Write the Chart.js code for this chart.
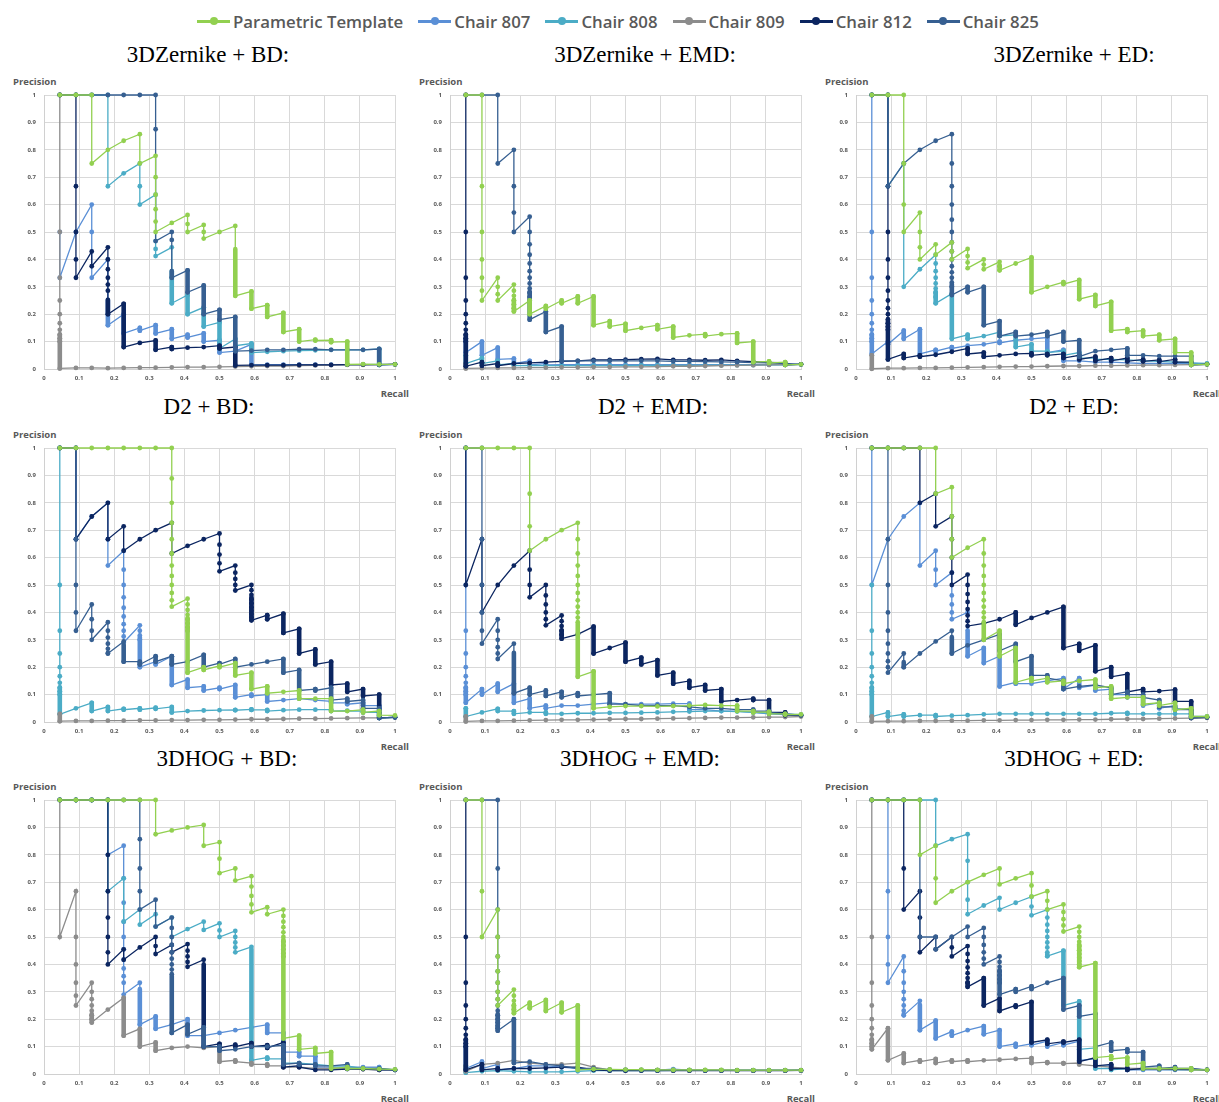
<!DOCTYPE html>
<html>
<head>
<meta charset="utf-8">
<script src="https://cdn.jsdelivr.net/npm/chart.js@4.4.1/dist/chart.umd.min.js"></script>
<style>
  html, body { margin: 0; padding: 0; background: #fff; }
  body { width: 1219px; height: 1102px; position: relative; overflow: hidden; font-family: "Open Sans", sans-serif; }
  #legend { position: absolute; left: 197px; top: 10px; display: flex; align-items: center; gap: 15px; height: 22px; }
  .item { display: flex; align-items: center; gap: 3px; font-weight: 600; font-size: 16.8px; color: #595959; white-space: nowrap; }
  .mk { position: relative; width: 33px; height: 3px; }
  .mk::after { content: ''; position: absolute; left: 12.5px; top: -2.5px; width: 8px; height: 8px; border-radius: 50%; background: inherit; }
  .title { position: absolute; transform: translate(-50%, -50%); font-family: "Liberation Serif", "Times New Roman", serif; font-size: 23px; color: #000; white-space: nowrap; }
  .ylab, .xlab { position: absolute; font-weight: 700; font-size: 9.5px; color: #595959; white-space: nowrap; transform: translateY(-50%); }
  .xlab { transform: translate(-100%, -50%); }
  .panel { position: absolute; }
</style>
</head>
<body>
<div id="legend"></div>
<script>
/* ---------- data ---------- */
const recall = [0.045, 0.091, 0.136, 0.182, 0.227, 0.273, 0.318, 0.364, 0.409, 0.455, 0.5,
                0.545, 0.591, 0.636, 0.682, 0.727, 0.773, 0.818, 0.864, 0.909, 0.955, 1];
const seriesNames  = ['Parametric Template', 'Chair 807', 'Chair 808', 'Chair 809', 'Chair 812', 'Chair 825'];
const seriesColors = ['#92D050', '#5A8FD6', '#4BACC6', '#8C8C8C', '#0B2560', '#365F91'];
const drawOrder    = [0, 5, 4, 3, 2, 1];   // template on top, then 825 ... 807 underneath
const panelTitles  = ['3DZernike + BD:', '3DZernike + EMD:', '3DZernike + ED:',
                      'D2 + BD:', 'D2 + EMD:', 'D2 + ED:',
                      '3DHOG + BD:', '3DHOG + EMD:', '3DHOG + ED:'];

// each entry = precision values at one recall level (top, visible dots..., bottom)
// 3DZernike + BD
const zBD_tmpl = [[1],[1],[1,0.75],[0.8],[0.833],[0.857,0.75],[0.778,0.7,0.636,0.583,0.538,0.5],[0.533],[0.5625,0.529,0.5],[0.526,0.5,0.476],[0.5],[0.522,0.267],[0.283,0.22],[0.233,0.19],[0.205,0.135],[0.145,0.1],[0.107,0.104],[0.105,0.098],[0.1,0.017],[0.018],[0.017],[0.017]];
const zBD_807  = [[0.5,0.333],[0.5],[0.6,0.5,0.333],[0.4,0.16],[0.2,0.13],[0.15,0.14],[0.16,0.13],[0.145,0.11],[0.125,0.115],[0.13,0.1],[0.105,0.06],[0.065],[0.09,0.015],[0.016],[0.016],[0.016],[0.016],[0.016],[0.016],[0.016],[0.017],[0.017]];
const zBD_808  = [[1],[1],[1],[1,0.667],[0.714],[0.75,0.667,0.6],[0.636,0.467,0.438,0.412],[0.444,0.24],[0.27,0.2],[0.225,0.155],[0.17,0.075],[0.11,0.085],[0.093,0.06],[0.063],[0.065],[0.067],[0.068],[0.07],[0.07],[0.07],[0.073,0.015],[0.017]];
const zBD_809  = [[1,0.5,0.333,0.25,0.2,0.167,0.143,0.125,0.111,0.1,0.002],[0.004],[0.004],[0.003],[0.004],[0.005],[0.005],[0.006],[0.007],[0.007],[0.008],[0.009],[0.01],[0.011],[0.011],[0.012],[0.013],[0.014],[0.015],[0.015],[0.016],[0.017]];
const zBD_812  = [[1],[1,0.667,0.5,0.4,0.333],[0.429,0.375],[0.444,0.4,0.364,0.333,0.308,0.286,0.2],[0.238,0.08],[0.095],[0.104,0.07],[0.08,0.073],[0.078],[0.08],[0.085,0.075],[0.08,0.013],[0.014],[0.014],[0.014],[0.015],[0.015],[0.015],[0.016],[0.016],[0.016],[0.017]];
const zBD_825  = [[1],[1],[1],[1],[1],[1],[1,0.875,0.467],[0.5,0.471,0.333],[0.36,0.28],[0.305,0.2],[0.216,0.18],[0.19,0.065],[0.067],[0.07],[0.07],[0.072],[0.072],[0.07],[0.07],[0.07],[0.073,0.015],[0.017]];
// 3DZernike + EMD
const zEMD_tmpl = [[1],[1,0.667,0.5,0.4,0.333,0.286,0.25],[0.333,0.3,0.273,0.25],[0.308,0.286,0.267,0.25,0.235,0.222,0.21],[0.25,0.2],[0.23,0.22],[0.25,0.24],[0.265,0.24],[0.265,0.16],[0.175,0.155],[0.165,0.14],[0.15],[0.16,0.145],[0.155,0.115],[0.123],[0.127,0.12],[0.127],[0.13,0.095],[0.1,0.025],[0.028,0.022],[0.025,0.015],[0.017]];
const zEMD_807  = [[0.11,0.06],[0.1,0.05],[0.078,0.035],[0.038,0.02],[0.03,0.015],[0.02,0.015],[0.016],[0.016],[0.016],[0.016],[0.016],[0.016],[0.016],[0.016],[0.016],[0.016],[0.016],[0.016],[0.016],[0.016],[0.016],[0.017]];
const zEMD_808  = [[0.05,0.02],[0.04,0.02],[0.03,0.015],[0.02,0.012],[0.013],[0.012],[0.012],[0.012],[0.012],[0.012],[0.012],[0.013],[0.013],[0.013],[0.013],[0.014],[0.014],[0.014],[0.014],[0.015],[0.015],[0.017]];
const zEMD_809  = [[0.02,0.002],[0.003],[0.004],[0.004],[0.005],[0.005],[0.006],[0.006],[0.007],[0.007],[0.008],[0.008],[0.009],[0.01],[0.01],[0.011],[0.012],[0.013],[0.014],[0.015],[0.016],[0.017]];
const zEMD_812  = [[1,0.5,0.333,0.25,0.2,0.167,0.143,0.125,0.111,0.1,0.01],[0.025,0.012],[0.02,0.012],[0.02],[0.022],[0.025],[0.028],[0.03],[0.033],[0.033],[0.034],[0.036],[0.037],[0.033],[0.033],[0.032],[0.033],[0.03],[0.027],[0.024],[0.022,0.015],[0.017]];
const zEMD_825  = [[1],[1],[1,0.75],[0.8,0.667,0.571,0.5],[0.556,0.5,0.455,0.417,0.385,0.357,0.333,0.312,0.294,0.278,0.263,0.25,0.18],[0.21,0.135],[0.155,0.03],[0.03],[0.03],[0.03],[0.03],[0.03],[0.03],[0.028],[0.028],[0.027],[0.026],[0.025],[0.023],[0.022],[0.02],[0.017]];
// 3DZernike + ED
const zED_tmpl = [[1],[1],[1,0.75,0.6,0.5],[0.571,0.5,0.444,0.4],[0.455,0.417],[0.462,0.429,0.4],[0.438,0.412,0.389,0.368],[0.4,0.381,0.364],[0.391,0.375,0.36],[0.385],[0.407,0.28],[0.3],[0.317,0.31],[0.325,0.255],[0.27,0.23],[0.245,0.14],[0.145,0.135],[0.14,0.12],[0.125,0.105],[0.11,0.06],[0.06,0.015],[0.017]];
const zED_807  = [[1,0.5,0.333,0.25,0.2,0.167,0.143,0.125,0.111,0.1,0.055],[0.1,0.09],[0.14,0.11],[0.145,0.055],[0.07,0.065],[0.08,0.075],[0.085],[0.09],[0.1,0.095],[0.105],[0.11],[0.115,0.06],[0.07,0.03],[0.03],[0.025],[0.025],[0.022],[0.02],[0.02],[0.02],[0.02],[0.019]];
const zED_808  = [[1],[1,0.667],[0.75,0.3],[0.364],[0.417,0.385,0.357,0.333,0.312,0.294,0.278,0.263,0.24],[0.275,0.11],[0.125,0.11],[0.12],[0.135,0.12],[0.125,0.08],[0.09,0.065],[0.065,0.06],[0.065,0.05],[0.06,0.04],[0.04,0.035],[0.035],[0.033],[0.03],[0.028],[0.025],[0.022],[0.02]];
const zED_809  = [[0.05,0.001],[0.003],[0.003],[0.004],[0.004],[0.005],[0.006],[0.007],[0.008],[0.009],[0.009],[0.01],[0.011],[0.011],[0.012],[0.012],[0.013],[0.014],[0.014],[0.015],[0.016],[0.017]];
const zED_812  = [[1],[1,0.667,0.5,0.4,0.333,0.286,0.25,0.222,0.2,0.182,0.167,0.154,0.143,0.035],[0.055,0.04],[0.05,0.045],[0.052],[0.063],[0.075,0.055],[0.06,0.045],[0.05],[0.055],[0.057,0.05],[0.055,0.05],[0.055,0.04],[0.05,0.035],[0.045,0.03],[0.04,0.03],[0.04,0.028],[0.035,0.028],[0.033,0.027],[0.035,0.025],[0.025,0.015],[0.017]];
const zED_825  = [[1],[1,0.667],[0.75],[0.8],[0.833],[0.857,0.75,0.667,0.6,0.545,0.5,0.462,0.429,0.4,0.375,0.353,0.333,0.316,0.3,0.27],[0.3,0.28],[0.3,0.16],[0.175,0.12],[0.135,0.12],[0.125],[0.135,0.12],[0.135,0.1],[0.105,0.045],[0.065],[0.07],[0.075,0.05],[0.05],[0.047],[0.047],[0.047,0.015],[0.017]];
// D2 + BD
const dBD_tmpl = [[1],[1],[1],[1],[1],[1],[1],[1,0.889,0.8,0.727,0.667,0.615,0.571,0.533,0.5,0.471,0.444,0.421],[0.45,0.429,0.409,0.391,0.375,0.36,0.346,0.333,0.18],[0.2,0.19],[0.205,0.2],[0.215,0.17],[0.18,0.12],[0.13,0.105],[0.11],[0.115,0.085],[0.085],[0.085,0.04],[0.04],[0.045,0.035],[0.04,0.025],[0.024]];
const dBD_807  = [[1],[1,0.667],[0.75],[0.8,0.667,0.571],[0.625,0.556,0.5,0.455,0.417,0.385,0.357,0.333,0.312,0.29],[0.353,0.333,0.316,0.3,0.2],[0.22,0.21],[0.24,0.135],[0.155,0.125],[0.13,0.115],[0.125,0.12],[0.135,0.09],[0.1,0.095],[0.1,0.075],[0.08],[0.085],[0.08],[0.075,0.07],[0.07,0.065],[0.07,0.06],[0.06,0.015],[0.017]];
const dBD_808  = [[1,0.5,0.333,0.25,0.2,0.167,0.143,0.125,0.111,0.1,0.028],[0.05],[0.07,0.04],[0.055,0.04],[0.048,0.045],[0.05,0.045],[0.052,0.048],[0.055,0.035],[0.04],[0.042],[0.043],[0.044,0.043],[0.046,0.044],[0.044,0.04],[0.043],[0.045],[0.045],[0.045,0.04],[0.041],[0.04,0.035],[0.035,0.015],[0.017]];
const dBD_809  = [[0.03,0.003],[0.004],[0.004],[0.005],[0.005],[0.006],[0.006],[0.007],[0.007],[0.008],[0.008],[0.009],[0.01],[0.01],[0.011],[0.012],[0.012],[0.013],[0.014],[0.015],[0.015],[0.017]];
const dBD_812  = [[1],[1,0.667],[0.75],[0.8,0.667],[0.714,0.625],[0.667],[0.7],[0.727,0.615],[0.643],[0.667],[0.688,0.647,0.611,0.579,0.55],[0.571,0.545,0.522,0.5,0.48],[0.5,0.481,0.464,0.448,0.433,0.419,0.406,0.394,0.382,0.371],[0.39,0.375],[0.395,0.325],[0.34,0.25],[0.265,0.21],[0.22,0.135],[0.14,0.11],[0.12,0.095],[0.1,0.015],[0.017]];
const dBD_825  = [[1],[1,0.667,0.5,0.4,0.333],[0.429,0.375,0.333,0.3],[0.364,0.333,0.308,0.286,0.267,0.25],[0.294,0.22],[0.22,0.21],[0.24,0.22],[0.24,0.21],[0.22],[0.245,0.2],[0.215,0.21],[0.23,0.2],[0.21],[0.22],[0.23,0.18],[0.19,0.115],[0.12,0.115],[0.125,0.08],[0.085,0.075],[0.08,0.05],[0.05,0.015],[0.017]];
// D2 + EMD
const dEMD_tmpl = [[1],[1],[1],[1],[1,0.833,0.714,0.625],[0.667],[0.7],[0.727,0.667,0.615,0.571,0.533,0.5,0.471,0.444,0.421,0.4,0.381,0.364,0.165],[0.185,0.05],[0.055],[0.058],[0.058],[0.057],[0.058],[0.06],[0.062],[0.06],[0.06,0.04],[0.04,0.035],[0.037,0.03],[0.03,0.027],[0.028]];
const dEMD_807  = [[1,0.5,0.333,0.25,0.2,0.167,0.143,0.125,0.111,0.1,0.07],[0.12,0.1],[0.14,0.11],[0.14,0.07],[0.085,0.05],[0.06,0.05],[0.06],[0.06],[0.065],[0.07],[0.065],[0.065],[0.065],[0.067],[0.067,0.045],[0.045],[0.04],[0.04],[0.035],[0.03],[0.027],[0.025]];
const dEMD_808  = [[0.05,0.02],[0.035],[0.048,0.04],[0.04,0.03],[0.035],[0.035,0.03],[0.03],[0.032],[0.032],[0.033],[0.033],[0.034],[0.035],[0.037],[0.038],[0.04],[0.04],[0.038],[0.035],[0.032],[0.03],[0.027]];
const dEMD_809  = [[0.02,0.002],[0.004],[0.004],[0.005],[0.006],[0.007],[0.008],[0.008],[0.009],[0.01],[0.011],[0.011],[0.012],[0.013],[0.014],[0.015],[0.016],[0.016],[0.017],[0.018],[0.018],[0.02]];
const dEMD_812  = [[1,0.5],[0.667,0.5,0.4],[0.5],[0.571],[0.625,0.556,0.5,0.455],[0.5,0.462,0.429,0.4,0.375,0.353],[0.389,0.368,0.35,0.333,0.318,0.304],[0.32],[0.348,0.25],[0.27],[0.29,0.22],[0.235,0.21],[0.226,0.17],[0.18,0.14],[0.15,0.125],[0.135,0.115],[0.12,0.075],[0.08],[0.085,0.08],[0.08,0.035],[0.035,0.025],[0.025]];
const dEMD_825  = [[1],[1,0.667,0.5,0.4,0.333,0.286],[0.375,0.333,0.3,0.273,0.25,0.23],[0.286,0.105],[0.125,0.1],[0.115,0.095],[0.11,0.09],[0.105,0.095],[0.1],[0.105,0.065],[0.065],[0.06],[0.06],[0.06],[0.055],[0.05],[0.05],[0.045],[0.045,0.04],[0.04,0.035],[0.03],[0.025]];
// D2 + ED
const dED_tmpl = [[1],[1],[1],[1],[1,0.833],[0.857,0.75,0.667,0.6],[0.636],[0.667,0.615,0.571,0.533,0.5,0.471,0.444,0.421,0.4,0.381,0.364,0.3],[0.333,0.24],[0.27,0.145],[0.16,0.15],[0.16,0.145],[0.15,0.14],[0.15],[0.155,0.125],[0.13,0.085],[0.09],[0.09,0.065],[0.07,0.06],[0.07,0.045],[0.05,0.02],[0.02]];
const dED_807  = [[1,0.5],[0.667],[0.75],[0.8,0.571],[0.625,0.556,0.5],[0.545,0.462,0.429,0.4,0.375],[0.4,0.24],[0.27,0.215],[0.24,0.13],[0.145,0.14],[0.14],[0.15],[0.16,0.12],[0.16,0.125],[0.135,0.115],[0.12,0.1],[0.1,0.09],[0.09,0.06],[0.07,0.05],[0.06,0.05],[0.045,0.02],[0.019]];
const dED_808  = [[0.5,0.333,0.25,0.2,0.167,0.143,0.125,0.111,0.1,0.02],[0.035,0.02],[0.028,0.02],[0.025],[0.025,0.02],[0.023],[0.025],[0.028],[0.03],[0.03],[0.03],[0.03],[0.03],[0.03],[0.03],[0.032],[0.033,0.03],[0.03],[0.03],[0.03],[0.03,0.02],[0.02]];
const dED_809  = [[0.02,0.002],[0.003],[0.003],[0.004],[0.004],[0.005],[0.005],[0.006],[0.006],[0.007],[0.007],[0.008],[0.008],[0.009],[0.009],[0.01],[0.011],[0.011],[0.012],[0.013],[0.014],[0.015]];
const dED_812  = [[1],[1],[1],[1,0.8],[0.833,0.714],[0.75,0.667,0.6,0.545,0.5],[0.538,0.5,0.467,0.438,0.412,0.389,0.368,0.35],[0.36],[0.375],[0.4,0.355],[0.38],[0.4],[0.42,0.27],[0.285,0.26],[0.28,0.185],[0.2,0.165],[0.175,0.11],[0.12,0.11],[0.113],[0.118,0.075],[0.075,0.015],[0.017]];
const dED_825  = [[1],[1,0.667,0.5,0.4,0.333,0.286,0.25,0.222,0.2,0.18],[0.25,0.2],[0.25],[0.294],[0.333,0.25],[0.28],[0.3],[0.32,0.26],[0.285,0.22],[0.24,0.17],[0.17,0.16],[0.15,0.12],[0.13],[0.135],[0.125,0.1],[0.11,0.1],[0.1,0.09],[0.08,0.055],[0.055,0.045],[0.045,0.015],[0.017]];
// 3DHOG + BD
const hBD_tmpl = [[1],[1],[1],[1],[1],[1],[1,0.875],[0.889],[0.9],[0.909,0.833],[0.846,0.786,0.733],[0.75,0.706],[0.722,0.684,0.65,0.619,0.59],[0.609,0.583],[0.6,0.577,0.556,0.536,0.517,0.5,0.484,0.469,0.455,0.441,0.429,0.13],[0.14,0.09],[0.095,0.075],[0.08,0.02],[0.025,0.02],[0.02],[0.018],[0.017]];
const hBD_807  = [[1],[1],[1],[1,0.8],[0.833,0.714,0.625,0.556,0.5,0.455,0.417,0.385,0.357,0.333,0.29],[0.333,0.18],[0.21,0.165],[0.18],[0.2,0.14],[0.14],[0.15],[0.16],[0.17],[0.18,0.15],[0.15,0.08],[0.08,0.065],[0.065,0.025],[0.025],[0.025],[0.025],[0.025,0.015],[0.015]];
const hBD_808  = [[1],[1],[1],[1,0.667],[0.714,0.556],[0.6,0.545],[0.583,0.538],[0.571,0.5],[0.529],[0.556,0.526],[0.55,0.524,0.5],[0.522,0.5,0.48,0.462,0.444],[0.464,0.05],[0.06,0.055],[0.055,0.04],[0.04],[0.035],[0.03],[0.03],[0.02],[0.02],[0.015]];
const hBD_809  = [[1,0.5],[0.667,0.5,0.4,0.333,0.286,0.25],[0.333,0.3,0.273,0.25,0.231,0.214,0.2,0.188],[0.235],[0.278,0.14],[0.165,0.1],[0.115,0.085],[0.095],[0.1],[0.095],[0.1,0.045],[0.05,0.045],[0.04,0.035],[0.035,0.03],[0.03,0.025],[0.025],[0.02],[0.02],[0.02],[0.017],[0.015],[0.015]];
const hBD_812  = [[1],[1],[1],[1,0.8,0.667,0.571,0.5,0.444,0.4],[0.455,0.417],[0.462],[0.5,0.467,0.438],[0.471,0.444],[0.474,0.45,0.429,0.409,0.391],[0.417,0.1],[0.11,0.095],[0.107,0.1],[0.113,0.1],[0.105,0.095],[0.115,0.025],[0.03,0.025],[0.015],[0.015],[0.018],[0.018],[0.015],[0.015]];
const hBD_825  = [[1],[1],[1],[1],[1],[1,0.857,0.75,0.667,0.6],[0.636,0.538],[0.571,0.533,0.5,0.471,0.444,0.421,0.4,0.381,0.364,0.15],[0.18,0.145],[0.17,0.1],[0.1,0.085],[0.09],[0.1],[0.1],[0.105,0.035],[0.04,0.035],[0.035,0.03],[0.03],[0.035,0.02],[0.02],[0.02],[0.015]];
// 3DHOG + EMD
const hEMD_tmpl = [[1],[1,0.667,0.5],[0.6,0.5,0.429,0.375,0.333,0.3,0.273,0.25],[0.308,0.286,0.267,0.25,0.235,0.222],[0.26,0.24],[0.27,0.23],[0.26,0.225],[0.25,0.015],[0.018],[0.017],[0.016],[0.016],[0.015],[0.015],[0.015],[0.015],[0.015],[0.014],[0.014],[0.014],[0.014],[0.014]];
const hEMD_807  = [[0.1,0.02],[0.045,0.02],[0.035,0.015],[0.02],[0.03],[0.03],[0.025],[0.02],[0.018],[0.016],[0.015],[0.015],[0.014],[0.018],[0.014],[0.014],[0.014],[0.014],[0.014],[0.014],[0.014],[0.014]];
const hEMD_808  = [[0.03,0.005],[0.01],[0.012],[0.01],[0.008],[0.008],[0.008],[0.01],[0.012],[0.012],[0.012],[0.012],[0.012],[0.013],[0.013],[0.013],[0.013],[0.013],[0.013],[0.013],[0.013],[0.013]];
const hEMD_809  = [[0.03,0.01],[0.035],[0.04],[0.05],[0.04],[0.035],[0.035],[0.04],[0.025],[0.015],[0.014],[0.014],[0.014],[0.013],[0.013],[0.013],[0.013],[0.013],[0.013],[0.013],[0.013],[0.013]];
const hEMD_812  = [[1,0.5,0.333,0.25,0.2,0.167,0.143,0.125,0.111,0.1,0.015],[0.035,0.015],[0.02,0.015],[0.02],[0.02],[0.022],[0.025],[0.025],[0.015],[0.012],[0.012],[0.012],[0.012],[0.012],[0.012],[0.012],[0.012],[0.012],[0.012],[0.012],[0.012],[0.013]];
const hEMD_825  = [[1],[1],[1,0.75,0.6,0.5,0.429,0.375,0.333,0.3,0.273,0.25,0.231,0.214,0.2,0.188,0.176,0.167,0.158],[0.2,0.04],[0.045],[0.035],[0.03],[0.02],[0.02],[0.015],[0.015],[0.014],[0.014],[0.014],[0.014],[0.013],[0.013],[0.013],[0.013],[0.013],[0.013],[0.013]];
// 3DHOG + ED
const hED_tmpl = [[1],[1],[1],[1,0.8],[0.833,0.714,0.625],[0.667],[0.7],[0.727],[0.75,0.692],[0.714],[0.733,0.688,0.647],[0.667,0.632,0.6],[0.619,0.591,0.565,0.542,0.52],[0.538,0.519,0.5,0.483,0.467,0.452,0.438,0.424,0.412,0.4,0.39],[0.405,0.06],[0.065,0.055],[0.06,0.035],[0.04,0.02],[0.02],[0.02],[0.02,0.015],[0.015]];
const hED_807  = [[1],[1,0.667,0.5,0.4,0.333],[0.429,0.375,0.333,0.3,0.273,0.25,0.231,0.214],[0.267,0.16],[0.195,0.13],[0.155,0.14],[0.16],[0.175,0.145],[0.16,0.1],[0.11,0.1],[0.11,0.105],[0.12,0.1],[0.115,0.105],[0.12,0.05],[0.055,0.03],[0.03,0.02],[0.02,0.015],[0.015],[0.015],[0.015],[0.015],[0.015]];
const hED_808  = [[1],[1],[1],[1],[1,0.833],[0.857],[0.875,0.778,0.7,0.636,0.583],[0.615],[0.643,0.6],[0.625],[0.647,0.611,0.579],[0.6,0.571,0.545,0.522,0.5,0.48,0.462,0.444,0.43],[0.45,0.25],[0.265,0.09],[0.095,0.02],[0.02,0.015],[0.02],[0.018],[0.017],[0.016],[0.015],[0.015]];
const hED_809  = [[1,0.5,0.333,0.25,0.2,0.167,0.143,0.125,0.111,0.1,0.09],[0.167,0.05],[0.075,0.04],[0.05,0.045],[0.055,0.04],[0.05,0.045],[0.05,0.045],[0.05],[0.052],[0.055],[0.058,0.04],[0.043,0.04],[0.04,0.038],[0.04,0.035],[0.03],[0.025],[0.02],[0.02],[0.017],[0.017],[0.015],[0.015]];
const hED_812  = [[1],[1],[1,0.75,0.6],[0.667,0.571,0.5,0.444],[0.5,0.455],[0.5,0.462,0.429],[0.467,0.438,0.412,0.389,0.368,0.35,0.333,0.318],[0.35,0.25],[0.276,0.23],[0.25,0.245],[0.263,0.115],[0.125,0.11],[0.118,0.115],[0.125,0.045],[0.06,0.03],[0.035,0.02],[0.02,0.015],[0.02],[0.02],[0.018],[0.018],[0.015]];
const hED_825  = [[1],[1],[1],[1,0.5],[0.5,0.455],[0.5],[0.538,0.5],[0.533,0.5,0.471,0.444,0.421,0.4],[0.429,0.409,0.391,0.375,0.36,0.346,0.333,0.29],[0.31,0.3],[0.32,0.31],[0.333],[0.35,0.235],[0.25,0.21],[0.22,0.1],[0.115,0.085],[0.09,0.08],[0.08,0.025],[0.03,0.02],[0.025,0.02],[0.02],[0.015]];

const panelSeries = [
  [zBD_tmpl, zBD_807, zBD_808, zBD_809, zBD_812, zBD_825],
  [zEMD_tmpl, zEMD_807, zEMD_808, zEMD_809, zEMD_812, zEMD_825],
  [zED_tmpl, zED_807, zED_808, zED_809, zED_812, zED_825],
  [dBD_tmpl, dBD_807, dBD_808, dBD_809, dBD_812, dBD_825],
  [dEMD_tmpl, dEMD_807, dEMD_808, dEMD_809, dEMD_812, dEMD_825],
  [dED_tmpl, dED_807, dED_808, dED_809, dED_812, dED_825],
  [hBD_tmpl, hBD_807, hBD_808, hBD_809, hBD_812, hBD_825],
  [hEMD_tmpl, hEMD_807, hEMD_808, hEMD_809, hEMD_812, hEMD_825],
  [hED_tmpl, hED_807, hED_808, hED_809, hED_812, hED_825],
];

/* ---------- layout ---------- */
const colLeft  = [44, 450, 856];
const rowTop   = [95, 448, 800];
const plotW = 351, plotH = 274;
const titleX = [[208, 645, 1074], [209, 653, 1074], [227, 640, 1074]];
const titleY = [55, 407, 759];
const AXW = 34, AXH = 20, PADT = 6, PADR = 14;

// legend
const legend = document.getElementById('legend');
seriesNames.forEach((name, i) => {
  const it = document.createElement('span');
  it.className = 'item';
  it.innerHTML = `<span class="mk" style="background:${seriesColors[i]}"></span>${name}`;
  legend.appendChild(it);
});

// heavy columns where the ranked points pile up into a solid bar
const denseColumns = {
  id: 'denseColumns',
  afterDatasetDraw(chart, args) {
    const ds = chart.data.datasets[args.index];
    const pts = ds.data;
    const { ctx, scales: { x, y } } = chart;
    ctx.save();
    ctx.strokeStyle = ds.borderColor;
    ctx.lineWidth = 4.6;
    ctx.lineCap = 'round';
    for (let i = 1; i < pts.length; i++) {
      if (pts[i].x !== pts[i - 1].x) continue;
      const k = recall.indexOf(pts[i].x) + 1;
      const thr = Math.sqrt(0.016 * k);
      const top = Math.min(pts[i - 1].y, thr);
      if (pts[i].y >= top) continue;
      const px = x.getPixelForValue(pts[i].x);
      ctx.beginPath();
      ctx.moveTo(px, y.getPixelForValue(top));
      ctx.lineTo(px, y.getPixelForValue(pts[i].y));
      ctx.stroke();
    }
    ctx.restore();
  }
};

const tickFont = { family: 'Open Sans', size: 6, weight: '700' };
const tickLabel = v => String(+v.toFixed(1));

function addText(cls, text, left, top) {
  const d = document.createElement('div');
  d.className = cls;
  d.textContent = text;
  d.style.left = left + 'px';
  d.style.top = top + 'px';
  document.body.appendChild(d);
}

panelTitles.forEach((title, p) => {
  const r = Math.floor(p / 3), c = p % 3;
  const L = colLeft[c], T = rowTop[r];

  addText('title', title, titleX[r][c], titleY[r]);
  addText('ylab', 'Precision', L - 31, T - 14);
  addText('xlab', 'Recall', L + plotW + 14, T + plotH + 24);

  const wrap = document.createElement('div');
  wrap.className = 'panel';
  wrap.style.left = (L - AXW) + 'px';
  wrap.style.top = (T - PADT) + 'px';
  const cv = document.createElement('canvas');
  cv.width = AXW + plotW + PADR;
  cv.height = PADT + plotH + AXH;
  wrap.appendChild(cv);
  document.body.appendChild(wrap);

  const datasets = panelSeries[p].map((steps, i) => ({
    label: seriesNames[i],
    data: steps.flatMap((vals, k) => vals.map(v => ({ x: recall[k], y: v }))),
    order: drawOrder[i],
    borderColor: seriesColors[i],
    backgroundColor: seriesColors[i],
    pointBackgroundColor: seriesColors[i],
    pointBorderWidth: 0,
    pointRadius: 2.4,
    borderWidth: 1.3,
    tension: 0,
    fill: false,
    clip: false,
  }));

  new Chart(cv, {
    type: 'line',
    data: { datasets },
    plugins: [denseColumns],
    options: {
      responsive: false,
      animation: false,
      events: [],
      layout: { padding: { left: 0, top: PADT, right: PADR, bottom: 0 } },
      plugins: { legend: { display: false }, tooltip: { enabled: false } },
      scales: {
        x: {
          type: 'linear', min: 0, max: 1,
          afterFit: s => { s.height = AXH; s.paddingLeft = 0; s.paddingRight = 0; },
          grid: { color: '#d9d9d9', drawTicks: false },
          border: { color: '#d0d0d0' },
          ticks: { stepSize: 0.1, padding: 6, color: '#595959', font: tickFont, maxRotation: 0, callback: tickLabel },
        },
        y: {
          type: 'linear', min: 0, max: 1,
          afterFit: s => { s.width = AXW; s.paddingTop = 0; s.paddingBottom = 0; },
          grid: { color: '#d9d9d9', drawTicks: false },
          border: { color: '#d0d0d0' },
          ticks: { stepSize: 0.1, padding: 8, color: '#595959', font: tickFont, callback: tickLabel },
        },
      },
    },
  });
});
</script>
</body>
</html>
